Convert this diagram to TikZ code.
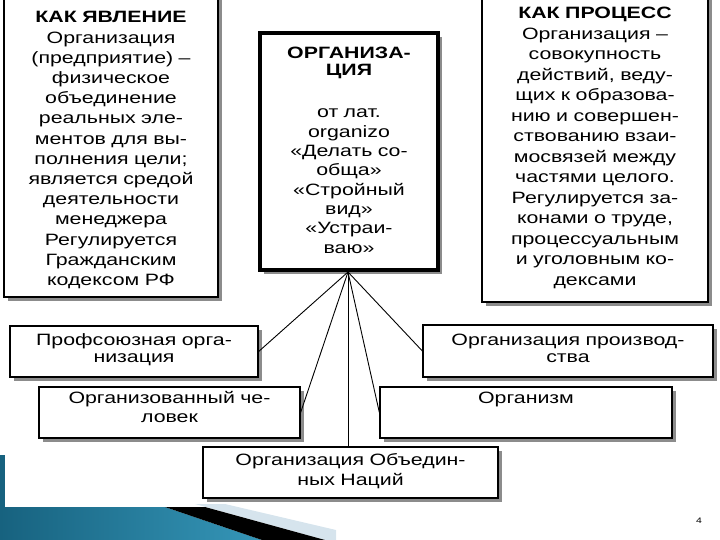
\documentclass[tikz,border=0pt]{standalone}
\usepackage{fontspec}
\setmainfont{Liberation Sans}[FakeStretch=1.3]
\usetikzlibrary{shadows}
\definecolor{tealdark}{HTML}{17627F}
\definecolor{teallight}{HTML}{5CBFDC}
\definecolor{tealmid}{HTML}{3596B8}
\definecolor{wedge}{HTML}{D6E4ED}
\begin{document}
\begin{tikzpicture}[x=1pt,y=-1pt,
  box/.style={draw=black, line width=1.3pt, fill=white, rectangle, inner sep=0pt,
    drop shadow={shadow xshift=4pt, shadow yshift=-4pt, opacity=1, fill=black!45}},
  mainbox/.style={box, line width=3.5pt},
  txt/.style={inner sep=0pt, align=center, text width=300pt, anchor=base},
  fs/.style={font=\fontsize{16.4}{#1}\selectfont},
  fsb/.style={font=\bfseries\fontsize{16.4}{#1}\selectfont},
  pgnum/.style={inner sep=0pt, font=\fontsize{8}{9}\selectfont}
]
\useasboundingbox (0,0) rectangle (720,540);
% bottom decoration
\fill[tealdark] (0,455) rectangle (5,507);
\shade[left color=tealdark, middle color=teallight, right color=tealmid]
  (0,507) -- (165,507) -- (262,540) -- (0,540) -- cycle;
\fill[wedge] (195,504) -- (225,504) -- (336,530) -- (336,540) -- (325,540) -- cycle;
\fill[black] (165,507) -- (205,507) -- (325,540) -- (262,540) -- cycle;

% boxes
\node[box, minimum width=214pt, minimum height=307pt] (left) at (111,143.5) {};
\node[mainbox, minimum width=178pt, minimum height=237pt] (center) at (349,151.5) {};
\node[box, minimum width=226pt, minimum height=312pt] (right) at (595,146) {};
\node[box, minimum width=248pt, minimum height=51pt] (prof) at (134,351.5) {};
\node[box, minimum width=261pt, minimum height=51pt] (chel) at (169.5,412.5) {};
\node[box, minimum width=295pt, minimum height=51pt] (oon) at (350.5,472.5) {};
\node[box, minimum width=290pt, minimum height=52pt] (proizv) at (568,351) {};
\node[box, minimum width=292pt, minimum height=51pt] (organism) at (526,412.5) {};

% texts
\node[txt, fs=20.2] (lefttext) at (111,23) {\textbf{КАК ЯВЛЕНИЕ}\\Организация\\(предприятие) –\\физическое\\объединение\\реальных эле-\\ментов для вы-\\полнения цели;\\является средой\\деятельности\\менеджера\\Регулируется\\Гражданским\\кодексом РФ};
\node[txt, fsb=16.5] (ctitle) at (349,59) {ОРГАНИЗА-\\ЦИЯ};
\node[txt, fs=19.3] (cbody) at (349,118) {от лат.\\organizo\\«Делать со-\\общa»\\«Стройный\\вид»\\«Устраи-\\ваю»};
\node[txt, fs=20.5] (righttext) at (595,19) {\textbf{КАК ПРОЦЕСС}\\Организация –\\совокупность\\действий, веду-\\щих к образова-\\нию и совершен-\\ствованию взаи-\\мосвязей между\\частями целого.\\Регулируется за-\\конами о труде,\\процессуальным\\и уголовным ко-\\дексами};
\node[txt, fs=17.5] (proftext) at (134,345) {Профсоюзная орга-\\низация};
\node[txt, fs=19] (cheltext) at (169.5,403) {Организованный че-\\ловек};
\node[txt, fs=20] (oontext) at (350.5,465) {Организация Объедин-\\ных Наций};
\node[txt, fs=17.5] (proizvtext) at (568,345) {Организация производ-\\ства};
\node[txt, fs=17.5] (organismtext) at (526,403) {Организм};
\node[pgnum] (page) at (699,521) {4};

% connectors
\coordinate (hub) at (348,272);
\draw[line width=0.9pt] (hub) -- (prof.east);
\draw[line width=0.9pt] (hub) -- (chel.east);
\draw[line width=0.9pt] (hub) -- (hub |- oon.north);
\draw[line width=0.9pt] (hub) -- (organism.west);
\draw[line width=0.9pt] (hub) -- (proizv.west);
\end{tikzpicture}
\end{document}
